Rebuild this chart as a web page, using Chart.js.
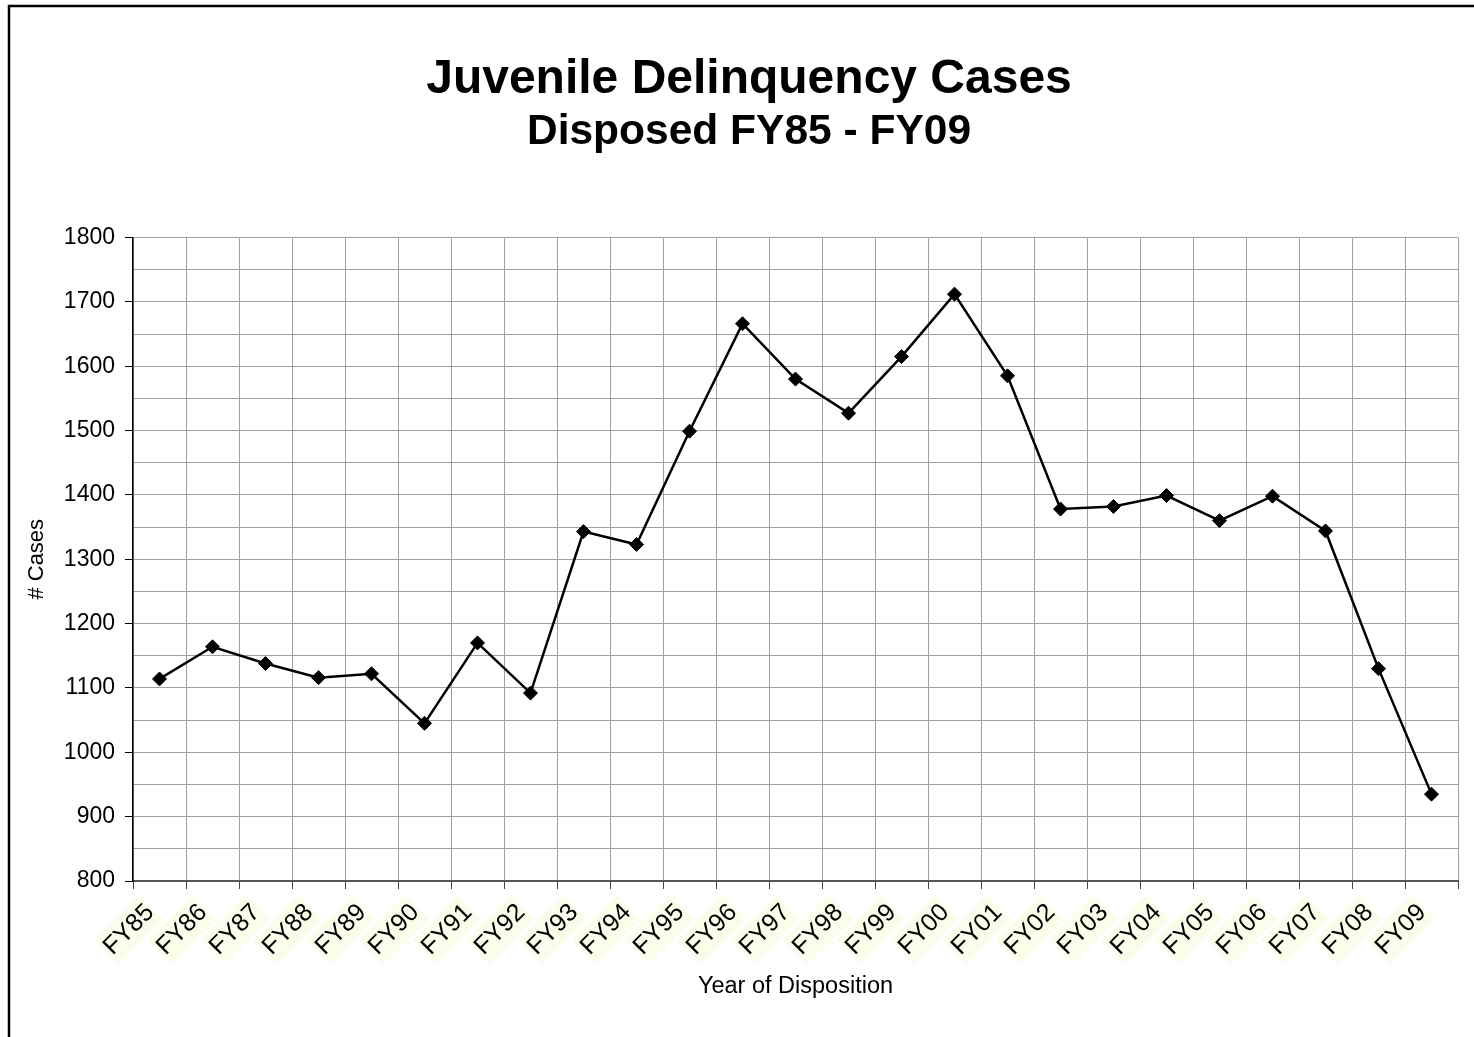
<!DOCTYPE html>
<html lang="en">
<head>
    <meta charset="UTF-8">
    <title>Juvenile Delinquency Cases</title>
    <script src="https://cdn.jsdelivr.net/npm/chart.js"></script>
    <style>
        body { margin: 0; background: #fff; }
        canvas { display: block; }
    </style>
</head>
<body>
    <canvas id="casesChart" width="1474" height="1037"></canvas>

    <script>
        // Data
        const years = ['FY85', 'FY86', 'FY87', 'FY88', 'FY89', 'FY90', 'FY91', 'FY92', 'FY93', 'FY94',
                       'FY95', 'FY96', 'FY97', 'FY98', 'FY99', 'FY00', 'FY01', 'FY02', 'FY03', 'FY04',
                       'FY05', 'FY06', 'FY07', 'FY08', 'FY09'];
        const casesDisposed = [1114, 1164, 1138, 1116, 1122, 1045, 1170, 1092, 1343, 1323,
                               1499, 1666, 1580, 1527, 1615, 1712, 1585, 1378, 1382, 1399,
                               1360, 1398, 1344, 1130, 935];
        const yMin = 800;
        const yMax = 1800;

        const FONT = 'Liberation Sans, Arial, sans-serif';

        // outer frame like the spreadsheet chart border
        const frame = {
            id: 'frame',
            afterDraw(chart) {
                const ctx = chart.ctx;
                ctx.save();
                ctx.strokeStyle = '#000';
                ctx.lineWidth = 2.5;
                ctx.strokeRect(9, 6, chart.width + 20, chart.height + 20);
                ctx.restore();
            }
        };

        const ctx = document.getElementById('casesChart').getContext('2d');
        new Chart(ctx, {
            type: 'line',
            data: {
                labels: years,
                datasets: [{
                    label: 'Cases',
                    data: casesDisposed,
                    borderColor: '#000',
                    borderWidth: 2.5,
                    tension: 0,
                    fill: false,
                    pointStyle: 'rectRot',
                    pointRadius: 7,
                    pointBackgroundColor: '#000',
                    pointBorderColor: '#000',
                    pointBorderWidth: 1
                }]
            },
            options: {
                responsive: false,
                animation: false,
                // left padding pushes the title centre right, like the original
                layout: { padding: { left: 40, right: 16, top: 0, bottom: 0 } },
                plugins: {
                    legend: { display: false },
                    tooltip: { enabled: false },
                    title: {
                        display: true,
                        text: 'Juvenile Delinquency Cases',
                        color: '#000',
                        font: { family: FONT, size: 48, weight: 'bold', lineHeight: 1 },
                        padding: { top: 56, bottom: 0 }
                    },
                    subtitle: {
                        display: true,
                        text: 'Disposed FY85 - FY09',
                        color: '#000',
                        font: { family: FONT, size: 42.5, weight: 'bold', lineHeight: 1 },
                        padding: { top: 7, bottom: 84 }
                    }
                },
                scales: {
                    x: {
                        offset: true,
                        grid: {
                            offset: true,
                            color: '#a0a0a0',
                            lineWidth: 1,
                            tickColor: '#444',
                            tickLength: 8
                        },
                        border: { color: '#555', width: 2 },
                        ticks: {
                            autoSkip: false,
                            minRotation: 45,
                            maxRotation: 45,
                            color: '#000',
                            padding: 9,
                            labelOffset: -20,
                            font: { family: FONT, size: 25 },
                            showLabelBackdrop: true,
                            backdropColor: '#fcfcea',
                            backdropPadding: 2
                        },
                        title: {
                            display: true,
                            text: 'Year of Disposition',
                            color: '#000',
                            font: { family: FONT, size: 23.5 },
                            padding: { top: 0, bottom: 36.5 }
                        },
                        afterFit(scale) { scale.height = 156; }
                    },
                    y: {
                        min: yMin,
                        max: yMax,
                        ticks: {
                            stepSize: 50,
                            color: '#000',
                            padding: 10,
                            font: { family: FONT, size: 23 },
                            callback: value => (value % 100 === 0 ? value : '')
                        },
                        grid: {
                            color: '#a0a0a0',
                            lineWidth: 1,
                            tickLength: 8,
                            tickColor: c => (c.tick && c.tick.value % 100 === 0 ? '#000' : 'rgba(0,0,0,0)')
                        },
                        border: { color: '#000', width: 1.5 },
                        title: {
                            display: true,
                            text: '# Cases',
                            color: '#000',
                            font: { family: FONT, size: 22 },
                            padding: { top: -16, bottom: 0 }
                        },
                        afterFit(scale) { scale.width = 93; }
                    }
                }
            },
            plugins: [frame]
        });
    </script>
</body>
</html>
